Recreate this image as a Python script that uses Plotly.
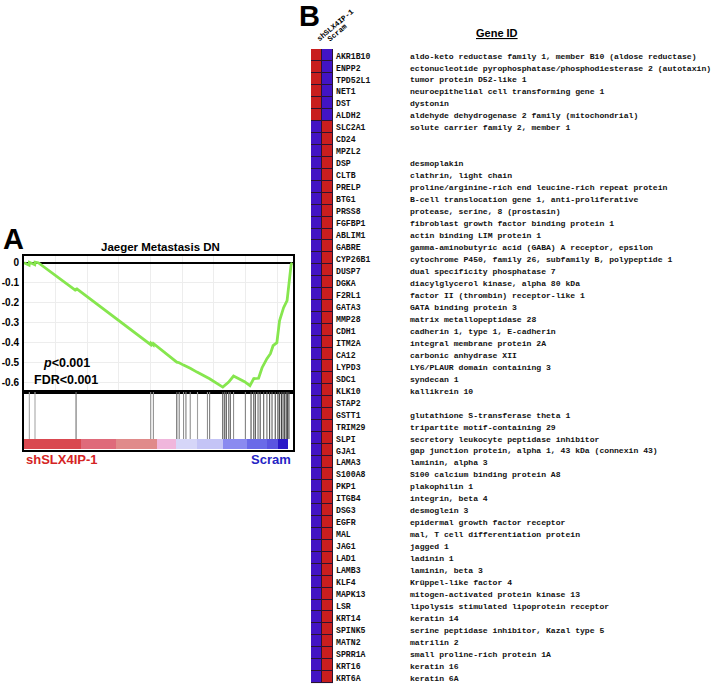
import plotly.graph_objects as go

W, H = 714, 684

# ---------------- Panel A: GSEA enrichment plot ----------------
gsea_title = "Jaeger Metastasis DN"
es_rank = [0, 323, 340, 680, 697, 901, 3281, 3298, 8007, 8024, 8177, 8194,
           9656, 9809, 10081, 10234, 10506, 10931, 11560, 11730, 12563, 12920,
           13243, 13940, 14280, 14518, 14824, 15045, 15351, 15572, 15742, 15980,
           16150, 16405, 16626, 16745, 16881, 16950]
es_score = [0.0, -0.012, 0.002, -0.010, 0.003, 0.0, -0.140, -0.128, -0.410, -0.402,
            -0.412, -0.405, -0.497, -0.500, -0.512, -0.517, -0.528, -0.547, -0.572,
            -0.580, -0.622, -0.598, -0.567, -0.595, -0.615, -0.580, -0.578, -0.525,
            -0.480, -0.455, -0.415, -0.400, -0.290, -0.225, -0.190, -0.100, -0.010, 0.0]
hit_ranks = [338, 695, 3290, 8007, 8177, 9656, 9809, 10081, 10234, 10506, 10965,
             11594, 11730, 12563, 12682, 12784, 12937, 13039, 13243, 13991, 14348,
             14518, 14620, 14790, 14926, 15147, 15351, 15521, 15674, 15878, 16048,
             16150, 16269, 16371, 16473, 16575, 16660, 16745]
hit_colors = ["#a8a8a8", "#a8a8a8", "#707070", "#909090", "#909090", "#606060", "#808080",
              "#909090", "#808080", "#909090", "#a0a0a0", "#909090", "#808080", "#505050",
              "#606060", "#505050", "#707070", "#606060", "#909090", "#808080", "#505050",
              "#606060", "#505050", "#707070", "#505050", "#606060", "#707070", "#505050",
              "#606060", "#505050", "#404040", "#505050", "#404040", "#505050", "#404040",
              "#505050", "#404040", "#505050"]
n_ranked = 17000
rank_bar_edges = [0, 3621, 5831, 8381, 9605, 10931, 12580, 14076, 15351, 16065, 16711]
rank_bar_colors = ["#d94850", "#df6a7a", "#e08a8a", "#f0b6dc", "#d6d6f8",
                   "#c4c4f6", "#8a8af0", "#6a6ae8", "#5a54e0", "#2a18c8"]
es_tick_vals = [0, -0.1, -0.2, -0.3, -0.4, -0.5, -0.6]
es_tick_text = ["0", "-0.1", "-0.2", "-0.3", "-0.4", "-0.5", "-0.6"]
stats_text = ["<i>p</i>&lt;0.001", "FDR&lt;0.001"]
group_left, group_right = "shSLX4IP-1", "Scram"

# ---------------- Panel B: heatmap + gene list ----------------
sample_labels = ["shSLX4IP-1", "Scram"]
gene_symbols = ["AKR1B10", "ENPP2", "TPD52L1", "NET1", "DST", "ALDH2", "SLC2A1", "CD24",
                "MPZL2", "DSP", "CLTB", "PRELP", "BTG1", "PRSS8", "FGFBP1", "ABLIM1",
                "GABRE", "CYP26B1", "DUSP7", "DGKA", "F2RL1", "GATA3", "MMP28", "CDH1",
                "ITM2A", "CA12", "LYPD3", "SDC1", "KLK10", "STAP2", "GSTT1", "TRIM29",
                "SLPI", "GJA1", "LAMA3", "S100A8", "PKP1", "ITGB4", "DSG3", "EGFR",
                "MAL", "JAG1", "LAD1", "LAMB3", "KLF4", "MAPK13", "LSR", "KRT14",
                "SPINK5", "MATN2", "SPRR1A", "KRT16", "KRT6A"]
gene_desc = ["aldo-keto reductase family 1, member B10 (aldose reductase)",
             "ectonucleotide pyrophosphatase/phosphodiesterase 2 (autotaxin)",
             "tumor protein D52-like 1",
             "neuroepithelial cell transforming gene 1",
             "dystonin",
             "aldehyde dehydrogenase 2 family (mitochondrial)",
             "solute carrier family 2, member 1",
             "",
             "",
             "desmoplakin",
             "clathrin, light chain",
             "proline/arginine-rich end leucine-rich repeat protein",
             "B-cell translocation gene 1, anti-proliferative",
             "protease, serine, 8 (prostasin)",
             "fibroblast growth factor binding protein 1",
             "actin binding LIM protein 1",
             "gamma-aminobutyric acid (GABA) A receptor, epsilon",
             "cytochrome P450, family 26, subfamily B, polypeptide 1",
             "dual specificity phosphatase 7",
             "diacylglycerol kinase, alpha 80 kDa",
             "factor II (thrombin) receptor-like 1",
             "GATA binding protein 3",
             "matrix metallopeptidase 28",
             "cadherin 1, type 1, E-cadherin",
             "integral membrane protein 2A",
             "carbonic anhydrase XII",
             "LY6/PLAUR domain containing 3",
             "syndecan 1",
             "kallikrein 10",
             "",
             "glutathione S-transferase theta 1",
             "tripartite motif-containing 29",
             "secretory leukocyte peptidase inhibitor",
             "gap junction protein, alpha 1, 43 kDa (connexin 43)",
             "laminin, alpha 3",
             "S100 calcium binding protein A8",
             "plakophilin 1",
             "integrin, beta 4",
             "desmoglein 3",
             "epidermal growth factor receptor",
             "mal, T cell differentiation protein",
             "jagged 1",
             "ladinin 1",
             "laminin, beta 3",
             "Krüppel-like factor 4",
             "mitogen-activated protein kinase 13",
             "lipolysis stimulated lipoprotein receptor",
             "keratin 14",
             "serine peptidase inhibitor, Kazal type 5",
             "matrilin 2",
             "small proline-rich protein 1A",
             "keratin 16",
             "keratin 6A"]
# 1 = high (red), 0 = low (blue)
expr_sh = [1, 1, 1, 1, 1, 1, 0, 0, 0, 0, 0, 0, 0, 0, 0, 0, 0, 0, 0, 0, 0, 0, 0, 0, 0, 0, 0,
           0, 0, 0, 0, 0, 0, 0, 0, 0, 0, 0, 0, 0, 0, 0, 0, 0, 0, 0, 0, 0, 0, 0, 0, 0, 0]
expr_scram = [0, 0, 0, 0, 0, 0, 1, 1, 1, 1, 1, 1, 1, 1, 1, 1, 1, 1, 1, 1, 1, 1, 1, 1, 1, 1, 1,
              1, 1, 1, 1, 1, 1, 1, 1, 1, 1, 1, 1, 1, 1, 1, 1, 1, 1, 1, 1, 1, 1, 1, 1, 1, 1]

RED, BLUE = "#c81e1e", "#4214c4"
SANS = "Liberation Sans"
MONO = "Liberation Mono"


def px(x):
    return x / W


def py(y):
    return 1 - y / H


fig = go.Figure()

# Enrichment score curve
fig.add_trace(go.Scatter(x=es_rank, y=es_score, mode="lines",
                         line=dict(color="#86e64e", width=2.8),
                         xaxis="x", yaxis="y", hoverinfo="skip"))

# Hit lines
for r, c in zip(hit_ranks, hit_colors):
    fig.add_trace(go.Scatter(x=[r, r], y=[0.19, 1.0], mode="lines",
                             line=dict(color=c, width=1.1),
                             xaxis="x2", yaxis="y2", hoverinfo="skip"))

# Ranked list colour bar
centers = [(a + b) / 2 for a, b in zip(rank_bar_edges[:-1], rank_bar_edges[1:])]
widths = [b - a for a, b in zip(rank_bar_edges[:-1], rank_bar_edges[1:])]
fig.add_trace(go.Bar(x=centers, y=[0.175] * len(centers), base=0.02, width=widths,
                     marker=dict(color=rank_bar_colors, line=dict(width=0)),
                     xaxis="x2", yaxis="y2", hoverinfo="skip"))

# Heatmap
z = [[a, b] for a, b in zip(expr_sh, expr_scram)]
fig.add_trace(go.Heatmap(z=z, x=[0, 1], y=list(range(len(gene_symbols))),
                         colorscale=[[0, BLUE], [0.5, BLUE], [0.5, RED], [1, RED]],
                         zmin=0, zmax=1, showscale=False, xgap=1, ygap=1,
                         xaxis="x3", yaxis="y3", hoverinfo="skip"))

# Gene symbols & descriptions
n = len(gene_symbols)
fig.add_trace(go.Scatter(x=[336] * n, y=list(range(n)), text=gene_symbols,
                         mode="text", textposition="middle right",
                         textfont=dict(family=MONO, size=8.2, color="#111", weight="bold"),
                         xaxis="x4", yaxis="y4", hoverinfo="skip"))
fig.add_trace(go.Scatter(x=[410] * n, y=list(range(n)), text=gene_desc,
                         mode="text", textposition="middle right",
                         textfont=dict(family=MONO, size=8.1, color="#111", weight="bold"),
                         xaxis="x4", yaxis="y4", hoverinfo="skip"))

es_dom_x = [px(24), px(293)]
hm_dom_y = [py(683.3), py(49)]
row_shift = 0.13

fig.update_layout(
    width=W, height=H, margin=dict(l=0, r=0, t=0, b=0),
    paper_bgcolor="white", plot_bgcolor="white", showlegend=False,
    xaxis=dict(domain=es_dom_x, range=[0, n_ranked], showticklabels=False, ticks="",
               showgrid=True, gridcolor="#ededed", gridwidth=1, dtick=2000, tick0=0,
               zeroline=False, showline=True, mirror=True, linecolor="black", linewidth=2,
               anchor="y"),
    yaxis=dict(domain=[py(392), py(255.7)], range=[-0.6465, 0.035],
               tickvals=es_tick_vals, ticktext=es_tick_text, ticks="",
               tickfont=dict(family=SANS, size=10, color="black", weight="bold"),
               showgrid=True, gridcolor="#ededed", gridwidth=1,
               zeroline=True, zerolinecolor="black", zerolinewidth=2,
               showline=True, mirror=True, linecolor="black", linewidth=2,
               ticklabelstandoff=1, anchor="x"),
    xaxis2=dict(domain=es_dom_x, range=[0, n_ranked], showticklabels=False, ticks="",
                showgrid=False, zeroline=False, showline=True, mirror=True,
                linecolor="black", linewidth=2, anchor="y2"),
    yaxis2=dict(domain=[py(450), py(392)], range=[0, 1], showticklabels=False, ticks="",
                showgrid=False, zeroline=False, showline=True, mirror=True,
                linecolor="black", linewidth=2, anchor="x2"),
    xaxis3=dict(domain=[px(311), px(333)], range=[-0.5, 1.5], visible=False, anchor="y3"),
    yaxis3=dict(domain=hm_dom_y, range=[n - 0.5, -0.5], visible=False, anchor="x3"),
    xaxis4=dict(domain=[px(333), 1], range=[333, W], visible=False, anchor="y4"),
    yaxis4=dict(domain=hm_dom_y, range=[n - 0.5 - row_shift, -0.5 - row_shift],
                visible=False, anchor="x4"),
    bargap=0,
)

# Dark grid behind heatmap cells
fig.add_shape(type="rect", xref="x3", yref="y3", x0=-0.5, x1=1.5, y0=-0.5, y1=n - 0.5,
              fillcolor="#2a1430", line=dict(width=0), layer="below")

ann = []
ann.append(dict(text="<b>A</b>", x=px(1), y=py(221), xanchor="left", yanchor="top",
                font=dict(family=SANS, size=29, color="black")))
ann.append(dict(text="<b>B</b>", x=px(297), y=py(-2), xanchor="left", yanchor="top",
                font=dict(family=SANS, size=29, color="black")))
ann.append(dict(text="<b>" + gsea_title + "</b>", x=px(160), y=py(247),
                xanchor="center", yanchor="middle",
                font=dict(family=SANS, size=11.5, color="black")))
ann.append(dict(text="<b>" + stats_text[0] + "</b>", x=px(66), y=py(363),
                xanchor="center", yanchor="middle",
                font=dict(family=SANS, size=12.5, color="black")))
ann.append(dict(text="<b>" + stats_text[1] + "</b>", x=px(66), y=py(380),
                xanchor="center", yanchor="middle",
                font=dict(family=SANS, size=12.5, color="black")))
ann.append(dict(text="<b>" + group_left + "</b>", x=px(24), y=py(459),
                xanchor="left", yanchor="middle",
                font=dict(family=SANS, size=13, color="#d42424")))
ann.append(dict(text="<b>" + group_right + "</b>", x=px(293), y=py(459),
                xanchor="right", yanchor="middle",
                font=dict(family=SANS, size=13, color="#2424c4")))
ann.append(dict(text="<b><u>Gene ID</u></b>", x=px(497), y=py(33),
                xanchor="center", yanchor="middle",
                font=dict(family=SANS, size=11, color="black")))
label_x = [313, 323]
for lab, lx in zip(sample_labels, label_x):
    ann.append(dict(text="<b>" + lab + "</b>", x=px(lx), y=py(46), textangle=-40,
                    xanchor="left", yanchor="bottom",
                    font=dict(family=MONO, size=7.5, color="black")))
for a in ann:
    a.update(xref="paper", yref="paper", showarrow=False)
fig.update_layout(annotations=ann)

fig.write_html("out.html", config={"displayModeBar": False},
               post_script="document.body.style.margin='0';document.body.style.overflow='hidden';")
